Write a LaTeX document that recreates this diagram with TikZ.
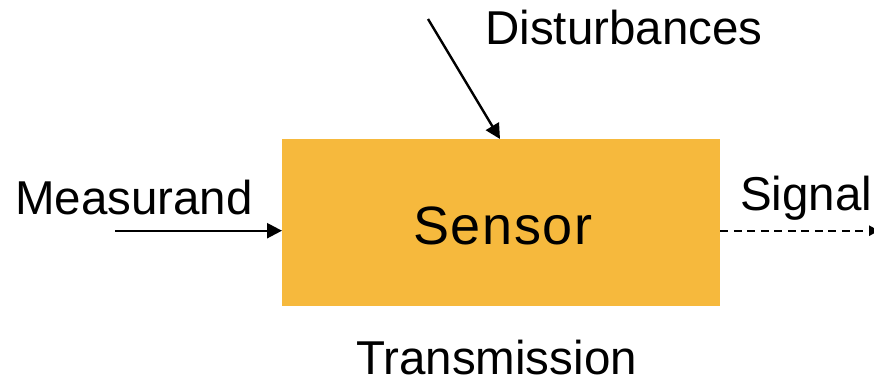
\documentclass[tikz,border=0pt]{standalone}
\usepackage{fontspec}
\setmainfont{Liberation Sans}
\usetikzlibrary{arrows.meta}
\definecolor{boxfill}{HTML}{F6B93D}
\begin{document}
\begin{tikzpicture}[x=1pt,y=-1pt,
  lbl/.style={anchor=base west,inner sep=0pt,font=\fontsize{47.5}{52}\selectfont},
  conn/.style={line width=2.4pt,-{Triangle[length=15pt,width=15pt]}},
  dconn/.style={line width=2.4pt,dash pattern=on 8pt off 5.5pt,-{Triangle[length=10pt,width=10pt]}}]
\useasboundingbox (0,0) rectangle (874,383);
\node[fill=boxfill,minimum width=438pt,minimum height=167pt,inner sep=0pt,anchor=north west] (sensor) at (282,139) {};
\node[anchor=base,inner sep=0pt,font=\fontsize{54}{60}\selectfont\addfontfeature{LetterSpace=3}] (sname) at (503,244) {Sensor};
\node[lbl] (meas) at (15,214) {Measurand};
\node[lbl] (dist) at (485,44) {Disturbances};
\node[lbl] (trans) at (356,374) {Transmission};
\node[lbl] (sig) at (740,210) {Signal};
\coordinate (min) at (115,230.7);
\coordinate (din) at (428,19);
\coordinate (sout) at (879,230.7);
\draw[conn] (min) -- (sensor.west |- min);
\draw[conn] (din) -- (500,139);
\draw[dconn] (sensor.east |- sout) -- (sout);
\end{tikzpicture}
\end{document}
